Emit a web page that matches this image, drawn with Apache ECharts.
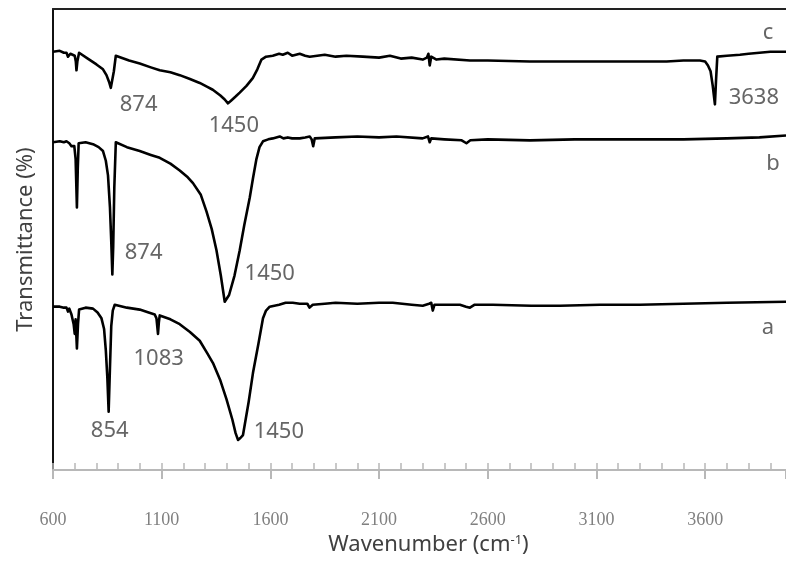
<!DOCTYPE html>
<html>
<head>
<meta charset="utf-8">
<script src="https://cdn.jsdelivr.net/npm/echarts@6/dist/echarts.min.js"></script>
<style>
html,body{margin:0;padding:0;background:#fff;}
#chart{width:786px;height:561px;}
</style>
</head>
<body>
<div id="chart"></div>
<script>
// wavenumber (cm-1), transmittance (offset, arbitrary units)
var specA = [[600,168],[631,168],[650,167],[662,167],[669,163],[675,166],[685,160],[695,150],[700,140],[704,155],[710,125],[715,150],[720,165],[723,167],[750,167],[784,166],[805,162],[823,156],[835,145],[843,123],[850,95],[856,60],[862,105],[868,148],[875,164],[884,170],[940,167],[999,165],[1040,162],[1068,160],[1076,156],[1083,140],[1087,152],[1091,159],[1140,155],[1183,150],[1230,142],[1275,133],[1310,120],[1336,110],[1370,92],[1398,73],[1425,52],[1440,38],[1451,31],[1462,33],[1474,36],[1500,70],[1520,100],[1545,130],[1566,156],[1580,164],[1597,168],[1640,170],[1670,172],[1703,172],[1735,171],[1770,171],[1780,167],[1786,165],[1795,170],[1804,172],[1850,171],[1900,172],[2000,171],[2100,172],[2163,172],[2250,170],[2301,169],[2330,171],[2340,172],[2347,164],[2355,170],[2400,170],[2472,170],[2500,168],[2518,167],[2540,170],[2623,170],[2800,169],[2932,169],[3116,170],[3300,170],[3500,171],[3700,172],[3972,173]];

var specB = [[600,337],[631,338],[650,337],[662,338],[675,336],[685,333],[698,333],[704,320],[710,270],[714,310],[718,336],[723,338],[750,337],[784,335],[810,332],[830,328],[843,318],[853,303],[862,270],[868,235],[873,201],[877,230],[882,290],[889,337],[940,332],[999,328],[1050,324],[1091,321],[1140,315],[1183,308],[1220,301],[1244,295],[1280,283],[1306,266],[1330,248],[1352,226],[1372,200],[1390,173],[1410,180],[1435,200],[1459,226],[1480,252],[1505,280],[1520,300],[1536,320],[1550,332],[1566,338],[1590,340],[1611,341],[1643,343],[1660,341],[1680,342],[1700,341],[1735,341],[1760,342],[1781,343],[1790,340],[1797,333],[1804,341],[1812,343],[1900,342],[2000,343],[2100,342],[2180,343],[2300,341],[2325,343],[2333,337],[2340,341],[2400,340],[2480,339],[2502,336],[2520,339],[2600,340],[2794,339],[3000,340],[3254,340],[3500,340],[3700,341],[3850,342],[3972,344]];

var specC = [[600,430],[631,431],[650,429],[662,429],[669,425],[680,428],[700,426],[705,420],[708,411],[712,420],[720,429],[760,423],[800,417],[830,412],[846,406],[858,399],[866,393],[872,395],[880,410],[889,426],[950,421],[999,418],[1050,414],[1091,411],[1140,409],[1183,406],[1230,402],[1275,398],[1310,394],[1335,391],[1370,385],[1390,381],[1405,377],[1420,380],[1440,384],[1459,388],[1490,395],[1519,403],[1540,412],[1559,422],[1580,425],[1611,426],[1640,428],[1657,427],[1680,429],[1700,426],[1735,428],[1760,426],[1781,425],[1850,427],[1900,425],[1950,426],[2025,425],[2100,424],[2150,426],[2200,423],[2250,424],[2301,422],[2320,424],[2327,428],[2333,416],[2340,425],[2364,422],[2400,423],[2518,421],[2600,421],[2794,420],[3000,420],[3254,420],[3423,420],[3500,421],[3576,421],[3600,420],[3613,416],[3625,410],[3635,395],[3645,376],[3650,400],[3656,425],[3700,426],[3760,427],[3800,428],[3850,429],[3900,430],[3972,430]];

var xTicks = [600,1100,1600,2100,2600,3100,3600];
var annX = [994,1432,1017,1597,1086,861,1639,3824,3889,3912,3889];
var annY = [376,354,223,202,114,40,39,383,450,315,146];
var annText = ['874','1450','874','1450','1083','854','1450','3638','c','b','a'];

var chart = echarts.init(document.getElementById('chart'), null, {renderer:'canvas'});
var FONT = 'Noto Sans';
var XMIN = 600, XMAX = 3972;
var annData = annX.map(function(x,i){ return {value:[x, annY[i]], name: annText[i]}; });

function spec(d){
  return {type:'line', data:d, xAxisIndex:0, yAxisIndex:0, symbol:'none', smooth:false,
    lineStyle:{color:'#000', width:2.6, join:'round'}, silent:true, z:3};
}

chart.setOption({
  animation:false,
  backgroundColor:'#fff',
  grid:{left:53, top:9, right:0, bottom:78, containLabel:false},
  xAxis:[
    {type:'value', min:XMIN, max:XMAX, interval:100, position:'bottom',
     axisLine:{show:true, lineStyle:{color:'#b8b8b8', width:2}},
     axisTick:{show:true, inside:true, length:7, lineStyle:{color:'#b8b8b8', width:1.5}},
     splitLine:{show:false},
     axisLabel:{show:true, margin:41, fontFamily:'Liberation Serif', fontSize:18, color:'#808080',
       showMinLabel:true, showMaxLabel:false, hideOverlap:false,
       formatter:function(v){ return xTicks.indexOf(v) >= 0 ? String(v) : ''; }},
     name:'Wavenumber (cm{sup|-1})', nameLocation:'middle', nameGap:50,
     nameTextStyle:{fontFamily:FONT, fontSize:22, color:'#404040', padding:[0,0,0,18],
       rich:{sup:{fontFamily:FONT, fontSize:13, color:'#404040', verticalAlign:'top', padding:[0,0,8,0]}}}
    },
    {type:'value', min:XMIN, max:XMAX, interval:500, position:'bottom',
     axisLine:{show:false},
     axisTick:{show:true, inside:false, length:9, lineStyle:{color:'#b8b8b8', width:2}},
     axisLabel:{show:false}, splitLine:{show:false}
    },
    {type:'value', min:XMIN, max:XMAX, position:'top',
     axisLine:{show:true, lineStyle:{color:'#222', width:2}},
     axisTick:{show:false}, axisLabel:{show:false}, splitLine:{show:false}
    }
  ],
  yAxis:[
    {type:'value', min:0, max:474,
     axisLine:{show:true, lineStyle:{color:'#111', width:2}},
     axisTick:{show:false}, axisLabel:{show:false}, splitLine:{show:false},
     name:'Transmittance (%)', nameLocation:'middle', nameGap:16, nameRotate:90,
     nameTextStyle:{fontFamily:FONT, fontSize:22, color:'#404040'}
    }
  ],
  series:[
    spec(specA), spec(specB), spec(specC),
    {type:'scatter', data:annData, symbolSize:1, itemStyle:{color:'rgba(0,0,0,0)'}, silent:true, z:5,
     label:{show:true, position:'inside', formatter:function(p){return p.name;},
       fontFamily:FONT, fontSize:22, color:'#404040'}}
  ]
});
</script>
</body>
</html>
